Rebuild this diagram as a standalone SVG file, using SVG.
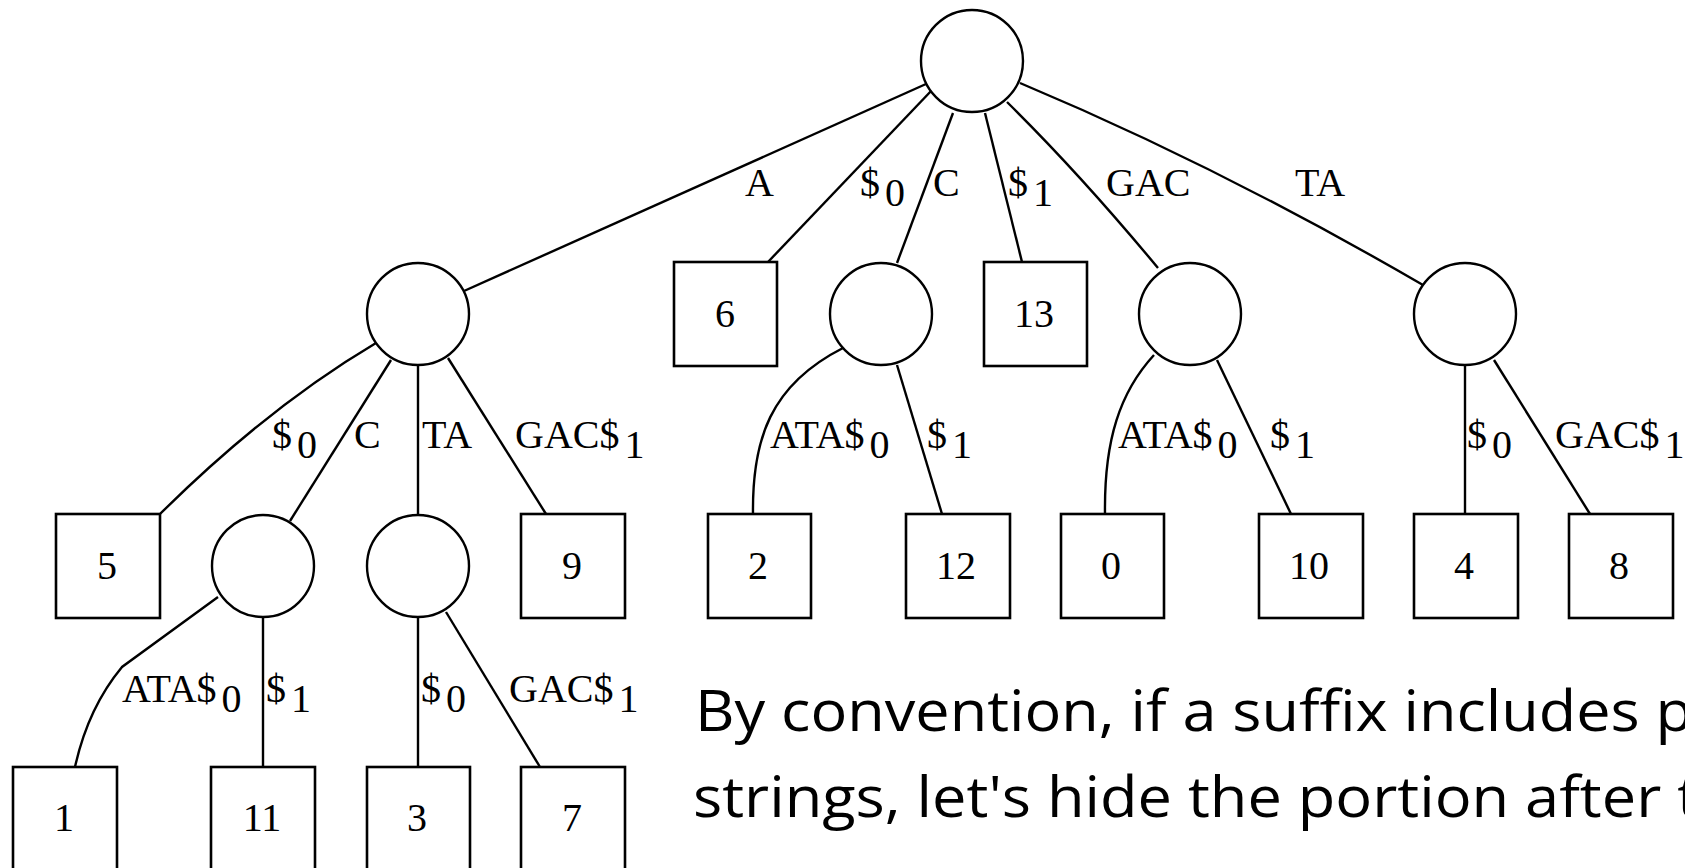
<svg xmlns="http://www.w3.org/2000/svg" width="1685" height="868" viewBox="0 0 1685 868">
  <style>
    .edge { fill: none; stroke: #000; stroke-width: 2.4; }
    .inner { fill: #fff; stroke: #000; stroke-width: 2.4; }
    .leaf { fill: #fff; stroke: #000; stroke-width: 2.6; }
    .lbl { font-family: "Liberation Serif", "Times New Roman", serif; font-size: 40px; fill: #000; }
    .num { font-family: "Liberation Serif", "Times New Roman", serif; font-size: 40px; fill: #000; text-anchor: middle; }
    .note { font-family: "Open Sans", "Noto Sans", sans-serif; font-size: 56px; fill: #000; }
  </style>
  <rect width="1685" height="868" fill="#fff"/>

  <!-- connectors -->
  <g id="edges">
    <path class="edge" d="M926,84 L464,291"/>
    <path class="edge" d="M932,90 L768,262"/>
    <path class="edge" d="M953,113 L897,263"/>
    <path class="edge" d="M985,113 L1022,262"/>
    <path class="edge" d="M1007,102 Q1081,175 1158,268"/>
    <path class="edge" d="M1020,83 Q1218,166 1423,285"/>

    <path class="edge" d="M376,343 Q268,407 160,514"/>
    <path class="edge" d="M391,360 L290,521"/>
    <path class="edge" d="M418,365 L418,514"/>
    <path class="edge" d="M448,358 L546,514"/>

    <path class="edge" d="M843,348 C770,385 752,440 753,514"/>
    <path class="edge" d="M897,365 L942,514"/>

    <path class="edge" d="M1154,355 C1120,392 1104,440 1105,514"/>
    <path class="edge" d="M1217,360 L1291,514"/>

    <path class="edge" d="M1465,365 L1465,514"/>
    <path class="edge" d="M1494,360 L1590,514"/>

    <path class="edge" d="M218,597 L122,667 Q88,708 75,767"/>
    <path class="edge" d="M263,617 L263,767"/>

    <path class="edge" d="M418,617 L418,767"/>
    <path class="edge" d="M446,612 L540,767"/>
  </g>

  <!-- edge labels -->
  <g id="edge-labels">
    <text class="lbl" x="745" y="196">A</text>
    <text class="lbl" x="860" y="196">$<tspan dx="5" dy="10">0</tspan></text>
    <text class="lbl" x="933" y="196">C</text>
    <text class="lbl" x="1008" y="196">$<tspan dx="5" dy="10">1</tspan></text>
    <text class="lbl" x="1106" y="196">GAC</text>
    <text class="lbl" x="1295" y="196">TA</text>

    <text class="lbl" x="272" y="448">$<tspan dx="5" dy="10">0</tspan></text>
    <text class="lbl" x="354" y="448">C</text>
    <text class="lbl" x="422" y="448">TA</text>
    <text class="lbl" x="515" y="448">GAC$<tspan dx="5" dy="10">1</tspan></text>
    <text class="lbl" x="770" y="448">ATA$<tspan dx="5" dy="10">0</tspan></text>
    <text class="lbl" x="927" y="448">$<tspan dx="5" dy="10">1</tspan></text>
    <text class="lbl" x="1118" y="448">ATA$<tspan dx="5" dy="10">0</tspan></text>
    <text class="lbl" x="1270" y="448">$<tspan dx="5" dy="10">1</tspan></text>
    <text class="lbl" x="1467" y="448">$<tspan dx="5" dy="10">0</tspan></text>
    <text class="lbl" x="1555" y="448">GAC$<tspan dx="5" dy="10">1</tspan></text>

    <text class="lbl" x="122" y="702">ATA$<tspan dx="5" dy="10">0</tspan></text>
    <text class="lbl" x="266" y="702">$<tspan dx="5" dy="10">1</tspan></text>
    <text class="lbl" x="421" y="702">$<tspan dx="5" dy="10">0</tspan></text>
    <text class="lbl" x="509" y="702">GAC$<tspan dx="5" dy="10">1</tspan></text>
  </g>

  <!-- internal nodes -->
  <g id="root"><circle class="inner" cx="972" cy="61" r="51"/></g>
  <g id="n-A"><circle class="inner" cx="418" cy="314" r="51"/></g>
  <g id="n-C"><circle class="inner" cx="881" cy="314" r="51"/></g>
  <g id="n-GAC"><circle class="inner" cx="1190" cy="314" r="51"/></g>
  <g id="n-TA"><circle class="inner" cx="1465" cy="314" r="51"/></g>
  <g id="n-AC"><circle class="inner" cx="263" cy="566" r="51"/></g>
  <g id="n-ATA"><circle class="inner" cx="418" cy="566" r="51"/></g>

  <!-- leaves -->
  <g id="leaf-6"><rect class="leaf" x="674" y="262" width="103" height="104"/><text class="num" x="725" y="327">6</text></g>
  <g id="leaf-13"><rect class="leaf" x="984" y="262" width="103" height="104"/><text class="num" x="1034" y="327">13</text></g>

  <g id="leaf-5"><rect class="leaf" x="56" y="514" width="104" height="104"/><text class="num" x="107" y="579">5</text></g>
  <g id="leaf-9"><rect class="leaf" x="521" y="514" width="104" height="104"/><text class="num" x="572" y="579">9</text></g>
  <g id="leaf-2"><rect class="leaf" x="708" y="514" width="103" height="104"/><text class="num" x="758" y="579">2</text></g>
  <g id="leaf-12"><rect class="leaf" x="906" y="514" width="104" height="104"/><text class="num" x="956" y="579">12</text></g>
  <g id="leaf-0"><rect class="leaf" x="1061" y="514" width="103" height="104"/><text class="num" x="1111" y="579">0</text></g>
  <g id="leaf-10"><rect class="leaf" x="1259" y="514" width="104" height="104"/><text class="num" x="1309" y="579">10</text></g>
  <g id="leaf-4"><rect class="leaf" x="1414" y="514" width="104" height="104"/><text class="num" x="1464" y="579">4</text></g>
  <g id="leaf-8"><rect class="leaf" x="1569" y="514" width="104" height="104"/><text class="num" x="1619" y="579">8</text></g>

  <g id="leaf-1"><rect class="leaf" x="13" y="767" width="104" height="104"/><text class="num" x="64" y="831">1</text></g>
  <g id="leaf-11"><rect class="leaf" x="211" y="767" width="104" height="104"/><text class="num" x="262" y="831">11</text></g>
  <g id="leaf-3"><rect class="leaf" x="367" y="767" width="103" height="104"/><text class="num" x="417" y="831">3</text></g>
  <g id="leaf-7"><rect class="leaf" x="521" y="767" width="104" height="104"/><text class="num" x="572" y="831">7</text></g>

  <!-- caption -->
  <g id="caption">
    <text class="note" x="695" y="731" textLength="998" lengthAdjust="spacingAndGlyphs">By convention, if a suffix includes p</text>
    <text class="note" x="693" y="817" textLength="1006" lengthAdjust="spacingAndGlyphs">strings, let's hide the portion after t</text>
  </g>
</svg>
